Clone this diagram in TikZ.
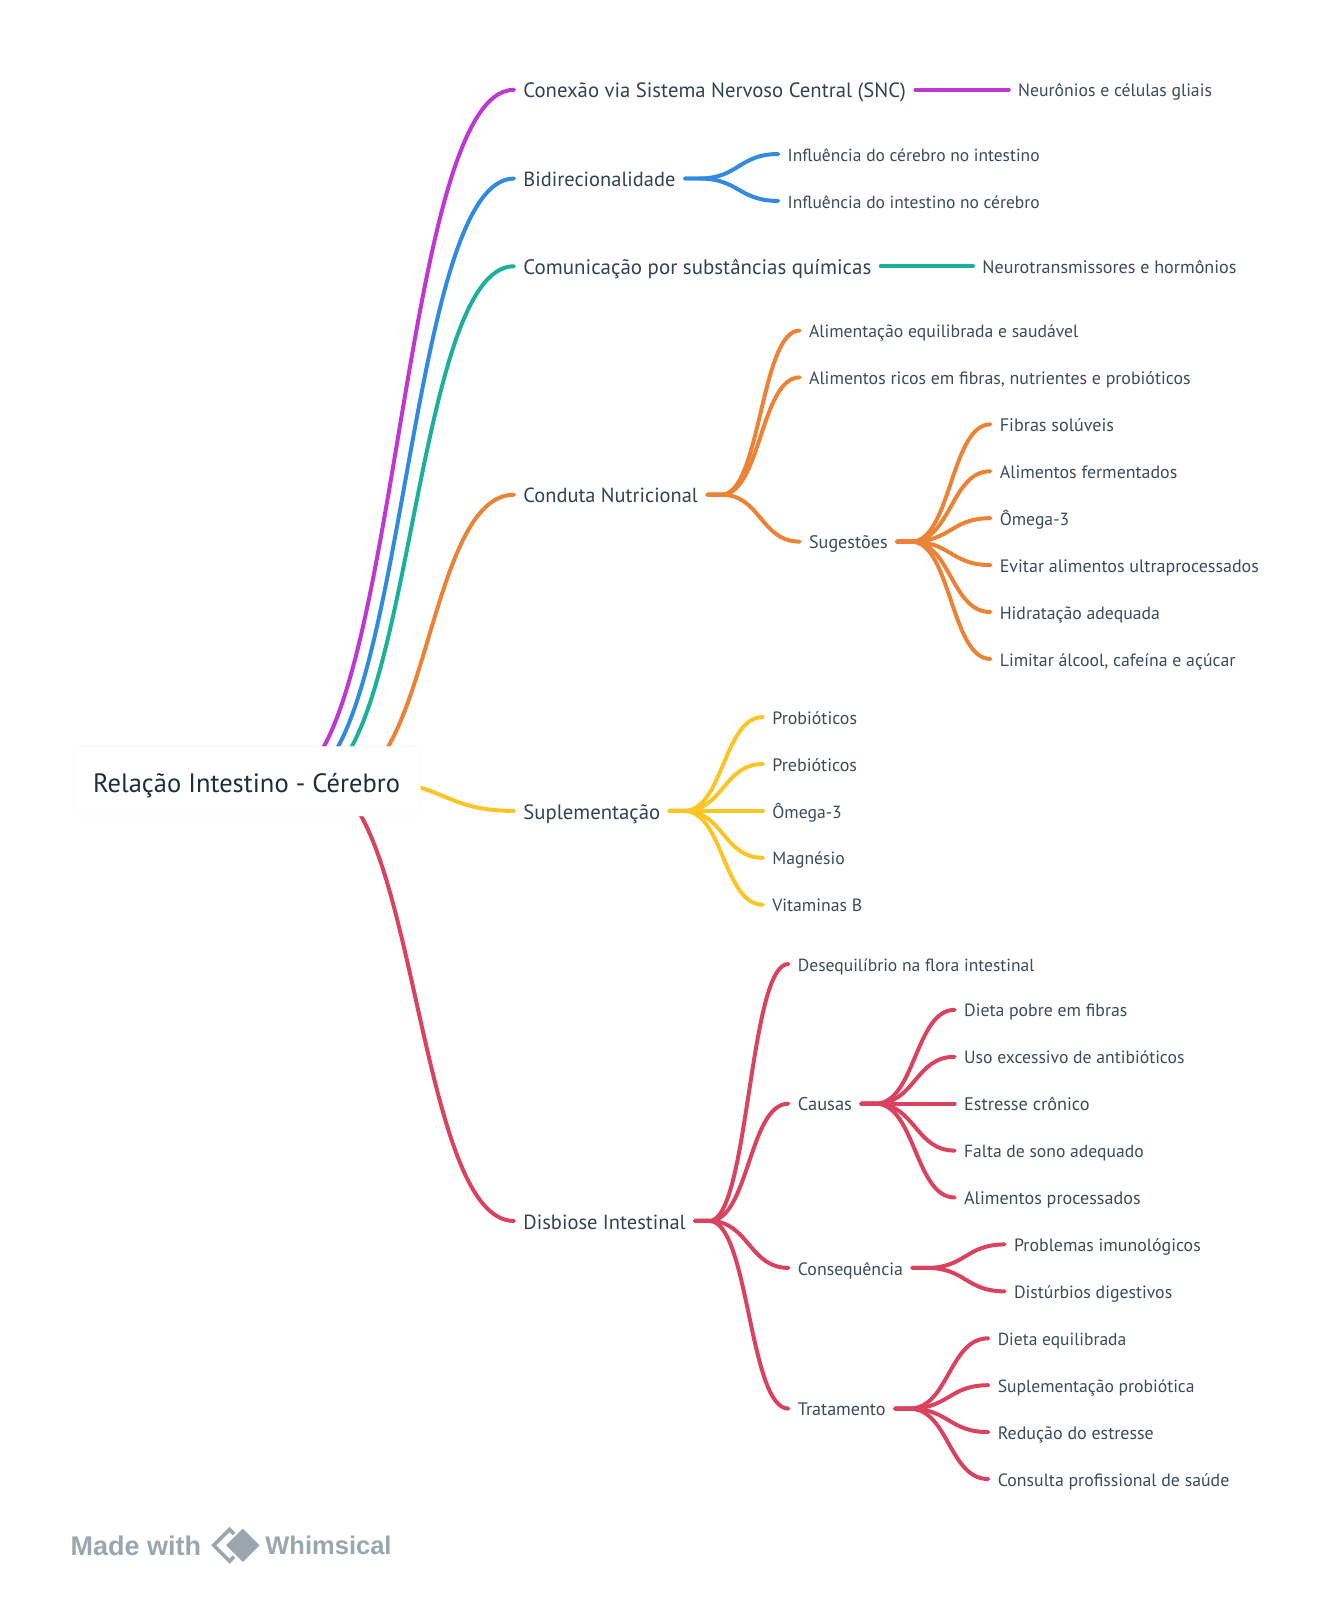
\documentclass[tikz,border=0pt]{standalone}
\usepackage{graphicx}
\usepackage{fontspec}
\setmainfont{PT Sans}
\newfontfamily\logofont{Liberation Sans}
\usetikzlibrary{calc}
\pgfdeclarelayer{back}
\pgfdeclarelayer{bg}
\pgfsetlayers{back,bg,main}
\definecolor{cpur}{HTML}{BF36D3}
\definecolor{cblu}{HTML}{2F8AE0}
\definecolor{ctea}{HTML}{1AB09A}
\definecolor{cora}{HTML}{EB8236}
\definecolor{cyel}{HTML}{FBC525}
\definecolor{cred}{HTML}{D9435E}
\definecolor{tdark}{HTML}{1F2D3D}
\definecolor{tmid}{HTML}{334155}
\definecolor{tleaf}{HTML}{3D4A5C}
\definecolor{logog}{HTML}{9BA6AF}
\tikzset{
  base/.style={anchor=west,inner xsep=9pt,inner ysep=0pt,text height=16pt,text depth=2pt},
  lone/.style={base,font=\fontsize{20.3}{22}\selectfont,text=tmid,text height=18pt},
  leaf/.style={base,font=\fontsize{17.35}{20}\selectfont,text=tleaf},
  wire/.style={line width=3.9pt,line cap=round}
}
\newcommand{\tn}[6]{\node[#1] (#2) at (#3-9,#4) {\resizebox{#5pt}{!}{#6}};}
\newcommand{\lk}[4][14]{%
  \begin{pgfonlayer}{bg}
  \draw[wire,#2] let \p1=(#3),\p2=(#4),\n1={\x1+#1pt},\n2={(\n1+\x2)/2} in
    (\p1) -- (\n1,\y1) .. controls (\n2,\y1) and (\n2,\y2) .. (\p2);
  \end{pgfonlayer}}
\newcommand{\rk}[3]{%
  \begin{pgfonlayer}{bg}
  \draw[wire,#1] let \p1=(#2),\p2=(#3),\n2={(\x1+\x2)/2} in
    (\p1) .. controls (\n2,\y1) and (\n2,\y2) .. (\p2);
  \end{pgfonlayer}}
\begin{document}
\begin{tikzpicture}[x=1pt,y=-1pt]
\useasboundingbox (0,0) rectangle (1315,1568.6);
\begin{pgfonlayer}{back}
\fill[white] (0,0) rectangle (1315,1568.6);
\end{pgfonlayer}
% root
\node[draw=black!3,fill=white,rounded corners=5pt,minimum width=340pt,minimum height=68pt,inner sep=0pt] (root) at (242,766) {};
\node[font=\fontsize{26}{28}\selectfont,text=tdark,anchor=west,inner sep=0pt] (roottext) at (91,770) {Relação Intestino - Cérebro};
\coordinate (o1) at (277,766);
\coordinate (o2) at (291,766);
\coordinate (o3) at (304,766);
\coordinate (o4) at (336,766);
\coordinate (o5) at (365,766);
\coordinate (o6) at (312,766);
% level 1
\tn{lone}{a}{513}{88}{375}{Conexão via Sistema Nervoso Central (SNC)}
\tn{lone}{b}{513}{175}{149}{Bidirecionalidade}
\tn{lone}{c}{513}{261}{341}{Comunicação por substâncias químicas}
\tn{lone}{d}{513}{485}{171}{Conduta Nutricional}
\tn{lone}{e}{513}{795}{134}{Suplementação}
\tn{lone}{f}{513}{1197}{159}{Disbiose Intestinal}
\rk{cpur}{o1}{a.west}
\rk{cblu}{o2}{b.west}
\rk{ctea}{o3}{c.west}
\rk{cora}{o4}{d.west}
\rk{cyel}{o5}{e.west}
\rk{cred}{o6}{f.west}
% a
\tn{leaf}{a1}{998}{88}{190}{Neurônios e células gliais}
\lk[0]{cpur}{a.east}{a1.west}
% b
\tn{leaf}{b1}{772}{151}{247}{Influência do cérebro no intestino}
\tn{leaf}{b2}{772}{197}{247}{Influência do intestino no cérebro}
\lk{cblu}{b.east}{b1.west}
\lk{cblu}{b.east}{b2.west}
% c
\tn{leaf}{c1}{963}{261}{249}{Neurotransmissores e hormônios}
\lk[0]{ctea}{c.east}{c1.west}
% d
\tn{leaf}{d1}{793}{324}{264}{Alimentação equilibrada e saudável}
\tn{leaf}{d2}{793}{370}{374}{Alimentos ricos em fibras, nutrientes e probióticos}
\tn{leaf}{d3}{793}{531}{77}{Sugestões}
\lk{cora}{d.east}{d1.west}
\lk{cora}{d.east}{d2.west}
\lk{cora}{d.east}{d3.west}
\tn{leaf}{d31}{980}{416}{112}{Fibras solúveis}
\tn{leaf}{d32}{980}{462}{174}{Alimentos fermentados}
\tn{leaf}{d33}{980}{508}{68}{Ômega-3}
\tn{leaf}{d34}{980}{554}{254}{Evitar alimentos ultraprocessados}
\tn{leaf}{d35}{980}{600}{157}{Hidratação adequada}
\tn{leaf}{d36}{980}{646}{231}{Limitar álcool, cafeína e açúcar}
\foreach \k in {d31,d32,d33,d34,d35,d36} {\lk{cora}{d3.east}{\k.west}}
% e
\tn{leaf}{e1}{757}{703}{83}{Probióticos}
\tn{leaf}{e2}{757}{749}{83}{Prebióticos}
\tn{leaf}{e3}{757}{795}{68}{Ômega-3}
\tn{leaf}{e4}{757}{841}{71}{Magnésio}
\tn{leaf}{e5}{757}{887}{88}{Vitaminas B}
\foreach \k in {e1,e2,e3,e4,e5} {\lk{cyel}{e.east}{\k.west}}
% f
\tn{leaf}{f1}{782}{945}{232}{Desequilíbrio na flora intestinal}
\tn{leaf}{f2}{782}{1082}{53}{Causas}
\tn{leaf}{f3}{782}{1243}{103}{Consequência}
\tn{leaf}{f4}{782}{1381}{86}{Tratamento}
\foreach \k in {f1,f2,f3,f4} {\lk{cred}{f.east}{\k.west}}
\tn{leaf}{f21}{945}{990}{160}{Dieta pobre em fibras}
\tn{leaf}{f22}{945}{1036}{216}{Uso excessivo de antibióticos}
\tn{leaf}{f23}{945}{1082}{123}{Estresse crônico}
\tn{leaf}{f24}{945}{1128}{176}{Falta de sono adequado}
\tn{leaf}{f25}{945}{1174}{173}{Alimentos processados}
\foreach \k in {f21,f22,f23,f24,f25} {\lk{cred}{f2.east}{\k.west}}
\tn{leaf}{f31}{994}{1220}{183}{Problemas imunológicos}
\tn{leaf}{f32}{994}{1266}{155}{Distúrbios digestivos}
\foreach \k in {f31,f32} {\lk{cred}{f3.east}{\k.west}}
\tn{leaf}{f41}{978}{1312}{126}{Dieta equilibrada}
\tn{leaf}{f42}{978}{1358}{193}{Suplementação probiótica}
\tn{leaf}{f43}{978}{1404}{153}{Redução do estresse}
\tn{leaf}{f44}{978}{1450}{227}{Consulta profissional de saúde}
\foreach \k in {f41,f42,f43,f44} {\lk{cred}{f4.east}{\k.west}}
% logo
\node[anchor=west,inner sep=0pt,text=logog,font=\logofont\bfseries\fontsize{26.5}{28}\selectfont] (made) at (69,1515) {Made with};
\node[anchor=west,inner sep=0pt,text=logog,font=\logofont\bfseries\fontsize{25}{27}\selectfont] (whim) at (260,1515) {Whimsical};
\draw[logog,line width=3.6pt,line join=miter] (225,1499.5) -- (209.5,1515) -- (225,1530.5) -- (240.5,1515) -- cycle;
\fill[logog,draw=white,line width=2pt] (238,1497) -- (256,1515) -- (238,1533) -- (220,1515) -- cycle;
\end{tikzpicture}
\end{document}
